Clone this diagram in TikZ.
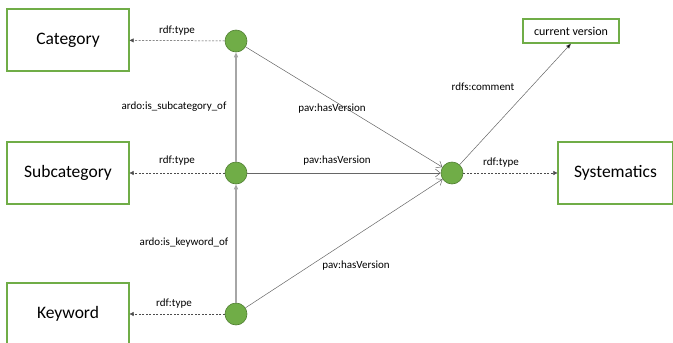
\documentclass[tikz,border=0pt]{standalone}
\usepackage{fontspec}
\setmainfont{Carlito}
\usetikzlibrary{arrows.meta}
\definecolor{gfill}{HTML}{70AD47}
\definecolor{gline}{HTML}{507E32}
\begin{document}
\begin{tikzpicture}[x=1pt,y=-1pt,
  cls/.style={draw=gfill,line width=1.2pt,fill=white,minimum width=122pt,minimum height=62pt,inner sep=0pt,font=\fontsize{17.5}{20}\selectfont},
  dot/.style={circle,fill=gfill,draw=gline,line width=0.6pt,minimum size=22pt,inner sep=0pt},
  lbl/.style={font=\fontsize{11}{13}\selectfont,inner sep=1pt},
  typ/.style={dash pattern=on 2pt off 1.5pt,draw=black!70,line width=0.5pt,-{Triangle[length=4pt,width=4pt]}},
  sub/.style={draw=black!35,line width=1.4pt,-{Triangle[length=5pt,width=4pt,fill=black]}},
  ver/.style={draw=black!60,line width=0.5pt,-{Straight Barb[length=5pt,width=8pt]}},
  cmt/.style={draw=black!60,line width=0.5pt,-{Triangle[length=5pt,width=4pt,fill=black]}}]
\useasboundingbox (0,0) rectangle (673,343);
\node[cls] (cat) at (68,40) {Category};
\node[cls] (sub) at (68,173) {Subcategory};
\node[cls] (kw) at (68,314) {Keyword};
\node[cls,minimum width=115pt] (sys) at (615.5,173) {Systematics};
\node[draw=gfill,line width=1.2pt,minimum width=96pt,minimum height=24pt,inner sep=0pt,font=\fontsize{12}{14}\selectfont] (cur) at (571,31) {current version};
\node[dot] (c1) at (236,41) {};
\node[dot] (c2) at (236,173) {};
\node[dot] (c3) at (236,314) {};
\node[dot] (c4) at (452,173) {};
\draw[typ] (c1) -- (cat);
\draw[typ] (c2) -- (sub);
\draw[typ] (c3) -- (kw);
\draw[typ] (c4) -- (sys);
\draw[sub] (c2) -- (c1);
\draw[sub] (c3) -- (c2);
\draw[ver] (c1) -- (c4);
\draw[ver] (c2) -- (c4);
\draw[ver] (c3) -- (c4);
\draw[cmt] (c4) -- (cur.south);
\node[lbl] at (177,31) {rdf:type};
\node[lbl] at (177,161) {rdf:type};
\node[lbl] at (174,304) {rdf:type};
\node[lbl] at (501,163) {rdf:type};
\node[lbl] at (174,107) {ardo:is\_subcategory\_of};
\node[lbl] at (184,243) {ardo:is\_keyword\_of};
\node[lbl] at (332,109) {pav:hasVersion};
\node[lbl] at (337,161) {pav:hasVersion};
\node[lbl] at (356,266) {pav:hasVersion};
\node[lbl] at (483,87) {rdfs:comment};
\end{tikzpicture}
\end{document}
